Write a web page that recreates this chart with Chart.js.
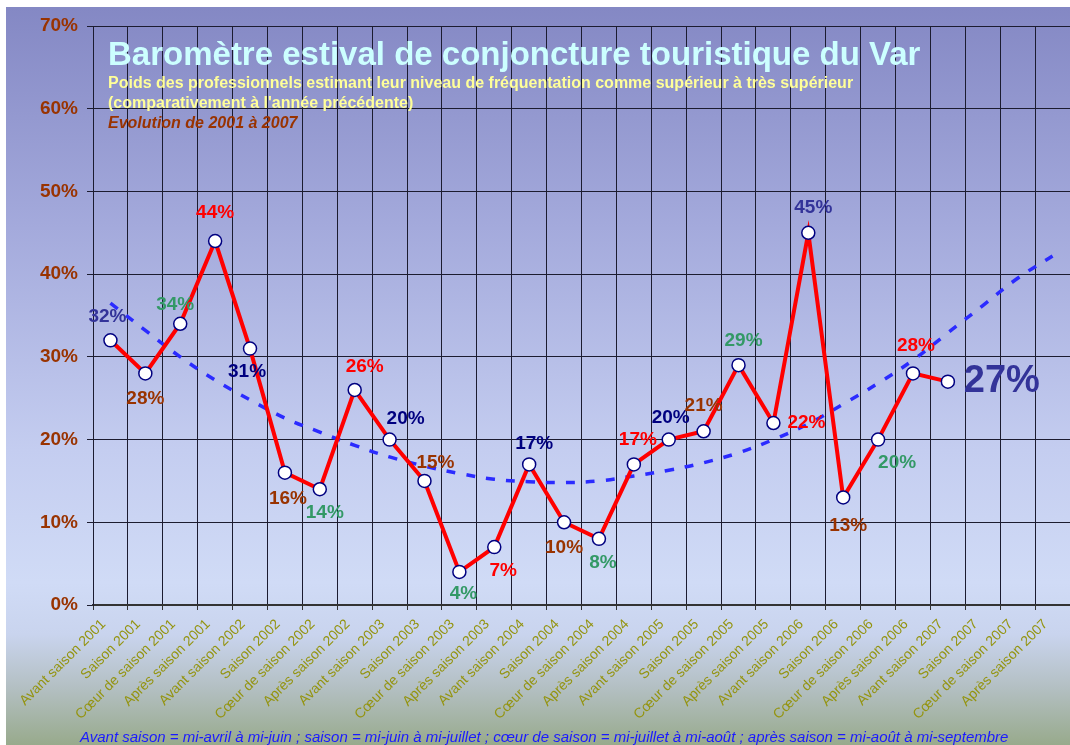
<!DOCTYPE html>
<html lang="fr">
<head>
<meta charset="utf-8">
<title>Baromètre estival de conjoncture touristique du Var</title>
<script src="https://cdn.jsdelivr.net/npm/chart.js@4.4.1/dist/chart.umd.min.js"></script>
<style>
    html, body { margin: 0; padding: 0; background: #fff; overflow: hidden; }
    #cadre {
        position: relative;
        width: 1070px;
        height: 745px;
        overflow: hidden;
        font-family: "Liberation Sans", Arial, sans-serif;
    }
    #fond {
        position: absolute;
        left: 6px; top: 7px; right: 0; bottom: 0;
        background: linear-gradient(to bottom, #8488c4 0%, #a4aadc 30%, #c4cdf0 60%, #d0dbf6 78%, #c9d4ee 85%, #b4c0c4 92%, #98aa8c 100%);
    }
    #graphe { position: absolute; left: 0; top: 0; }
    .txt { position: absolute; white-space: nowrap; }
    #titre {
        left: 108px; top: 37px;
        font-size: 33px; line-height: 33px; font-weight: bold;
        color: #ccffff;
    }
    #soustitre {
        left: 108px; top: 73px;
        font-size: 16px; line-height: 20px; font-weight: bold;
        color: #ffff99;
    }
    #soustitre .evol { color: #993300; font-style: italic; }
    #note {
        left: 80px; top: 729px;
        font-size: 15px; line-height: 16px; font-style: italic;
        color: #1a1aff;
    }
</style>
</head>
<body>
<div id="cadre">
    <div id="fond"></div>
    <canvas id="graphe" width="1078" height="745"></canvas>
    <div class="txt" id="titre">Baromètre estival de conjoncture touristique du Var</div>
    <div class="txt" id="soustitre">Poids des professionnels estimant leur niveau de fréquentation comme supérieur à très supérieur<br>(comparativement à l'année précédente)<br><span class="evol">Evolution de 2001 à 2007</span></div>
    <div class="txt" id="note">Avant saison = mi-avril à mi-juin ; saison = mi-juin à mi-juillet ; cœur de saison = mi-juillet à mi-août ; après saison = mi-août à mi-septembre</div>
</div>
<script>
'use strict';

// Périodes (4 par année, de 2001 à 2007)
const periodes = [
    'Avant saison 2001', 'Saison 2001', 'Cœur de saison 2001', 'Après saison 2001',
    'Avant saison 2002', 'Saison 2002', 'Cœur de saison 2002', 'Après saison 2002',
    'Avant saison 2003', 'Saison 2003', 'Cœur de saison 2003', 'Après saison 2003',
    'Avant saison 2004', 'Saison 2004', 'Cœur de saison 2004', 'Après saison 2004',
    'Avant saison 2005', 'Saison 2005', 'Cœur de saison 2005', 'Après saison 2005',
    'Avant saison 2006', 'Saison 2006', 'Cœur de saison 2006', 'Après saison 2006',
    'Avant saison 2007', 'Saison 2007', 'Cœur de saison 2007', 'Après saison 2007'
];

// Part des professionnels (%) — connue jusqu'à l'avant saison 2007
const taux = [32, 28, 34, 44, 31, 16, 14, 26, 20, 15, 4, 7, 17, 10, 8, 17, 20, 21, 29, 22, 45, 13, 20, 28, 27];

// Courbe de tendance
const tendance = [36.5, 33.2, 30.0, 27.2, 24.8, 22.6, 20.9, 19.3, 17.9, 16.8, 15.9, 15.2, 14.9, 14.8,
    15.0, 15.6, 16.3, 17.2, 18.4, 20.0, 21.9, 24.3, 26.8, 29.6, 32.9, 36.2, 39.5, 42.2];

// Graduations de l'axe des ordonnées
const graduations = [0, 10, 20, 30, 40, 50, 60, 70];

// Couleur des étiquettes selon la période (avant, saison, cœur, après)
const couleursPeriode = ['#000080', '#993300', '#339966', '#ff0000'];
const couleursSpeciales = { 0: '#333399', 20: '#333399', 24: '#333399' };

// Décalage des étiquettes par rapport au point [dx, dy]
const decalages = [
    [-3, -24], [0, 25], [-5, -19], [0, -28], [-3, 23], [3, 26], [5, 24], [10, -23],
    [16, -21], [11, -18], [4, 22], [9, 24], [5, -21], [0, 25], [4, 24], [4, -25],
    [2, -22], [0, -26], [5, -24], [33, 0], [5, -25], [5, 28], [19, 23], [3, -28], [54, 0]
];

const POLICE = "'Liberation Sans', Arial, sans-serif";

const etiquettes = {
    id: 'etiquettes',
    afterDatasetsDraw(chart) {
        const { ctx } = chart;
        const meta = chart.getDatasetMeta(0);
        ctx.save();
        ctx.textAlign = 'center';
        ctx.textBaseline = 'middle';
        meta.data.forEach((pt, i) => {
            const v = taux[i];
            if (v == null) return;
            const dernier = i === taux.length - 1;
            ctx.font = 'bold ' + (dernier ? 38 : 19) + 'px ' + POLICE;
            ctx.fillStyle = couleursSpeciales[i] || couleursPeriode[i % 4];
            const d = decalages[i] || [0, -22];
            ctx.fillText(v + '%', pt.x + d[0], pt.y + d[1]);
        });
        ctx.restore();
    }
};

new Chart(document.getElementById('graphe'), {
    type: 'line',
    data: {
        labels: periodes,
        datasets: [{
            data: taux,
            borderColor: '#ff0000',
            borderWidth: 4,
            tension: 0,
            pointRadius: 6.5,
            pointBackgroundColor: '#ffffff',
            pointBorderColor: '#000080',
            pointBorderWidth: 1.5,
            order: 0
        }, {
            data: tendance,
            borderColor: '#2b2bff',
            borderWidth: 3.5,
            borderDash: [9, 11],
            pointRadius: 0,
            tension: 0.4,
            order: 1
        }]
    },
    options: {
        responsive: false,
        animation: false,
        layout: { padding: { top: 26, right: 1, left: 0, bottom: 0 } },
        scales: {
            x: {
                offset: true,
                grid: {
                    offset: true,
                    color: '#1c1c30',
                    lineWidth: 1,
                    tickLength: 5,
                    tickColor: '#333'
                },
                border: { color: '#333', width: 2 },
                ticks: {
                    autoSkip: false,
                    minRotation: 45,
                    maxRotation: 45,
                    labelOffset: -7,
                    padding: 6,
                    color: '#949410',
                    font: { size: 14, family: POLICE }
                },
                afterFit(scale) {
                    scale.height = 140;
                    scale.paddingLeft = 0;
                    scale.paddingRight = 0;
                }
            },
            y: {
                min: 0,
                max: 70,
                afterBuildTicks(scale) {
                    scale.ticks = graduations.map(v => ({ value: v }));
                },
                grid: {
                    color: '#1c1c30',
                    lineWidth: 1,
                    tickLength: 6
                },
                border: { color: '#1c1c30' },
                ticks: {
                    padding: 9,
                    color: '#993300',
                    font: { size: 19, weight: 'bold', family: POLICE },
                    callback: v => v + '%'
                },
                afterFit(scale) {
                    scale.width = 93;
                }
            }
        },
        plugins: {
            legend: { display: false },
            tooltip: { enabled: false }
        }
    },
    plugins: [etiquettes]
});
</script>
</body>
</html>
